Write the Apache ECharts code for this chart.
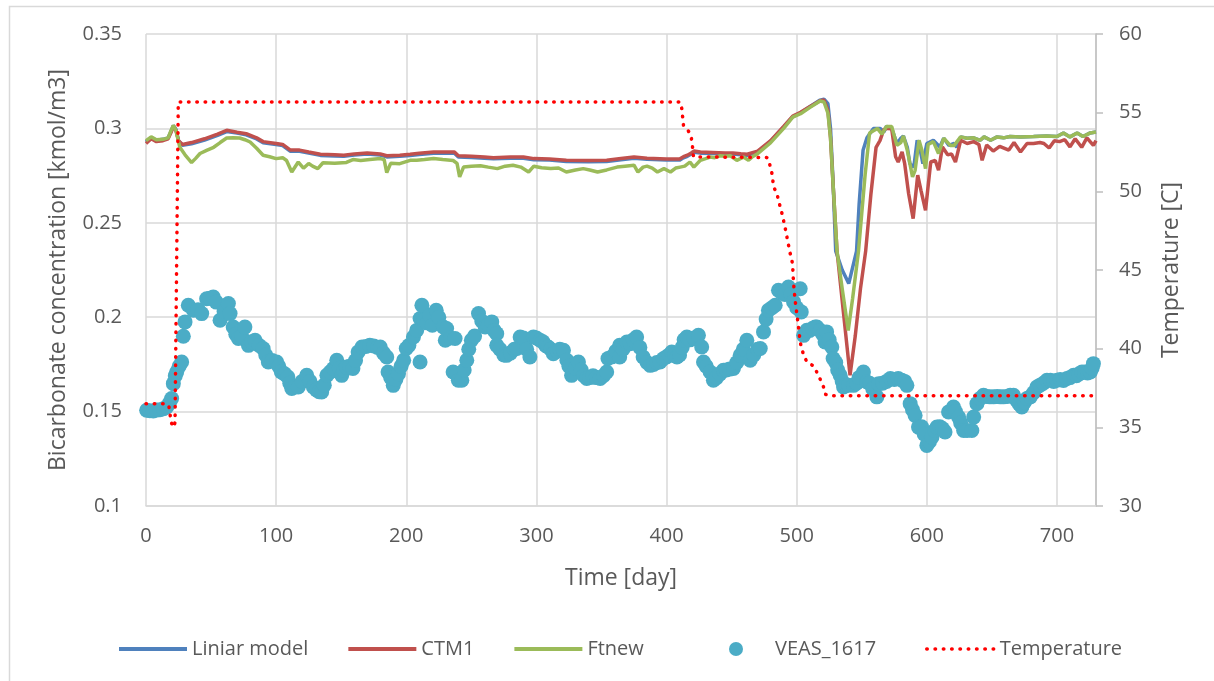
<!DOCTYPE html>
<html>
<head>
<meta charset="utf-8">
<script src="https://cdn.jsdelivr.net/npm/echarts@6/dist/echarts.min.js"></script>
<style>
html,body{margin:0;padding:0;background:#fff;}
#chart{width:1214px;height:681px;}
</style>
</head>
<body>
<div id="chart"></div>
<script>
// ---- data (day, value) ----
const xTicks = [0, 100, 200, 300, 400, 500, 600, 700];
const leftTicks = [0.1, 0.15, 0.2, 0.25, 0.3, 0.35];
const rightTicks = [30, 35, 40, 45, 50, 55, 60];

const liniarModel = [[0,0.2928],[4,0.2952],[8,0.2937],[13,0.2942],[17,0.2950],[19,0.2980],[21,0.3015],[23,0.2995],[25,0.2935],[28,0.2910],[35,0.2918],[45,0.2938],[55,0.2963],[62,0.2983],[70,0.2975],[77,0.2966],[85,0.2944],[90,0.2924],[100,0.2914],[105,0.2909],[111,0.2879],[118,0.2879],[125,0.2869],[134,0.2857],[145,0.2854],[152,0.2852],[160,0.2859],[170,0.2864],[180,0.2859],[185,0.2849],[195,0.2852],[203,0.2857],[210,0.2862],[221,0.2869],[230,0.2869],[237,0.2869],[240,0.2849],[250,0.2846],[260,0.2842],[267,0.2839],[280,0.2842],[290,0.2842],[298,0.2834],[310,0.2832],[323,0.2825],[340,0.2824],[354,0.2825],[365,0.2834],[375,0.2842],[385,0.2836],[400,0.2832],[410,0.2832],[413,0.2844],[416,0.2852],[419,0.2864],[421,0.2874],[426,0.2869],[435,0.2867],[445,0.2864],[451,0.2864],[457,0.2860],[462,0.2857],[466,0.2866],[470,0.2876],[480,0.2932],[490,0.3008],[497,0.3062],[503,0.3083],[510,0.3115],[518,0.3150],[521,0.3155],[524,0.3131],[526,0.3000],[528,0.2710],[530,0.2350],[535,0.2250],[540,0.2178],[546,0.2350],[548,0.2600],[551,0.2884],[554,0.2950],[559,0.2999],[564,0.3000],[567,0.2981],[569,0.3011],[573,0.3000],[577,0.2920],[580,0.2948],[582,0.2960],[585,0.2900],[587,0.2813],[590,0.2795],[592.6,0.2937],[595,0.2884],[597,0.2813],[600,0.2920],[605,0.2937],[610,0.2902],[613,0.2948],[617,0.2910],[621,0.2920],[623,0.2900],[626,0.2955],[631,0.2948],[636,0.2950],[641,0.2937],[644,0.2955],[649,0.2937],[654,0.2955],[659,0.2950],[664,0.2957],[672,0.2955],[682,0.2957],[692,0.2960],[700,0.2957],[705,0.2976],[710,0.2955],[715.5,0.2976],[720,0.2957],[725.6,0.2976],[730,0.2981]];

const ctm1 = [[0,0.2920],[4,0.2945],[8,0.2930],[13,0.2935],[17,0.2945],[19,0.2975],[21,0.3010],[23,0.2990],[25,0.2935],[28,0.2915],[35,0.2925],[45,0.2945],[55,0.2970],[62,0.2990],[70,0.2980],[77,0.2972],[85,0.2950],[90,0.2930],[100,0.2920],[105,0.2915],[111,0.2885],[118,0.2885],[125,0.2875],[134,0.2863],[145,0.2860],[152,0.2858],[160,0.2865],[170,0.2870],[180,0.2865],[185,0.2855],[195,0.2858],[203,0.2863],[210,0.2868],[221,0.2875],[230,0.2875],[237,0.2875],[240,0.2855],[250,0.2852],[260,0.2848],[267,0.2845],[280,0.2848],[290,0.2848],[298,0.2840],[310,0.2838],[323,0.2831],[340,0.2830],[354,0.2831],[365,0.2840],[375,0.2848],[385,0.2842],[400,0.2838],[410,0.2838],[413,0.2850],[416,0.2858],[419,0.2870],[421,0.2880],[426,0.2875],[435,0.2873],[445,0.2870],[451,0.2870],[457,0.2866],[462,0.2863],[466,0.2872],[470,0.2880],[480,0.2935],[490,0.3010],[497,0.3065],[503,0.3085],[510,0.3115],[518,0.3147],[521,0.3150],[524,0.3096],[526,0.2950],[528,0.2700],[531,0.2350],[536,0.2020],[541,0.1692],[545,0.1900],[549,0.2150],[553,0.2350],[557,0.2650],[561,0.2900],[564,0.2935],[567,0.2995],[570,0.3000],[573,0.2998],[576,0.2850],[578,0.2822],[581,0.2875],[583,0.2813],[586,0.2655],[589.5,0.2522],[593,0.2752],[595.5,0.2672],[599,0.2566],[603,0.2822],[606.5,0.2830],[609,0.2778],[612,0.2902],[616,0.2860],[619,0.2865],[622,0.2822],[626,0.2937],[631,0.2920],[636,0.2930],[640,0.2915],[642.5,0.2831],[646,0.2912],[651,0.2880],[656,0.2905],[663,0.2885],[667,0.2925],[672,0.2875],[677,0.2920],[682,0.2920],[687,0.2925],[690,0.2920],[694,0.2896],[698,0.2935],[702,0.2930],[706,0.2940],[710,0.2902],[714,0.2945],[719,0.2900],[723,0.2950],[728,0.2910],[730,0.2935]];

const ftnew = [[0,0.2935],[4,0.2955],[8,0.2940],[13,0.2942],[17,0.2950],[19,0.2985],[21,0.3016],[23,0.2990],[26,0.2900],[30,0.2860],[35,0.2819],[38,0.2840],[41.5,0.2867],[47,0.2885],[52,0.2900],[57,0.2925],[62,0.2949],[67,0.2950],[72,0.2949],[76,0.2940],[80,0.2928],[85,0.2895],[90,0.2858],[95,0.2850],[100,0.2840],[105,0.2845],[108,0.2830],[112,0.2769],[117,0.2822],[121,0.2789],[125,0.2814],[128,0.2800],[132,0.2787],[136,0.2818],[145,0.2815],[154,0.2820],[159,0.2835],[165,0.2830],[172,0.2835],[180,0.2840],[183,0.2835],[185,0.2766],[188,0.2815],[195,0.2813],[203,0.2831],[208,0.2831],[214,0.2835],[221,0.2840],[228,0.2835],[236,0.2830],[239,0.2815],[241,0.2743],[244,0.2795],[250,0.2800],[257,0.2802],[263,0.2795],[270,0.2787],[276,0.2800],[282,0.2805],[288,0.2795],[294,0.2769],[298,0.2800],[304,0.2792],[311,0.2787],[317,0.2790],[323,0.2769],[330,0.2780],[336,0.2787],[341,0.2780],[347,0.2769],[354,0.2780],[362,0.2795],[368,0.2800],[375,0.2805],[378,0.2769],[382,0.2795],[385,0.2800],[389,0.2790],[393,0.2769],[398,0.2787],[403,0.2769],[407,0.2790],[410.5,0.2795],[414,0.2800],[418,0.2822],[421,0.2795],[426,0.2831],[430,0.2840],[433.5,0.2848],[437,0.2845],[441,0.2855],[445,0.2852],[449,0.2855],[454,0.2831],[459,0.2848],[463,0.2831],[466,0.2850],[470,0.2866],[480,0.2925],[490,0.3000],[497,0.3060],[503,0.3078],[510,0.3110],[518,0.3145],[521,0.3140],[524,0.3080],[526,0.2950],[528,0.2700],[531,0.2350],[535,0.2150],[539.6,0.1930],[543,0.2100],[547.5,0.2350],[550,0.2550],[552.6,0.2755],[556,0.2975],[562,0.3000],[565.5,0.2970],[569,0.3010],[573,0.3010],[577,0.2910],[580,0.2925],[582,0.2960],[585,0.2884],[589,0.2743],[591,0.2778],[594,0.2937],[596,0.2890],[599,0.2787],[601,0.2915],[605,0.2930],[609,0.2867],[613,0.2948],[618,0.2910],[621,0.2910],[626,0.2955],[631,0.2948],[636,0.2950],[641,0.2937],[644,0.2955],[649,0.2937],[654,0.2955],[659,0.2950],[664,0.2957],[672,0.2955],[682,0.2957],[692,0.2960],[700,0.2957],[705,0.2976],[710,0.2955],[715.5,0.2976],[720,0.2957],[725.6,0.2976],[730,0.2981]];

const veas1617 = [[0.5,0.1507],[3,0.1505],[5.6,0.1503],[8,0.1508],[10.8,0.151],[13.5,0.1515],[15.9,0.1524],[18,0.1545],[19.7,0.1569],[21,0.1648],[22.5,0.169],[23.6,0.171],[25.5,0.1740],[27.4,0.1763],[28.7,0.1899],[30,0.1975],[32.5,0.2063],[36.4,0.2037],[40,0.2040],[42.8,0.2019],[46.6,0.2098],[49,0.2100],[51.7,0.2107],[54,0.2080],[56.9,0.1984],[60,0.2030],[63.3,0.2072],[64.6,0.2019],[67,0.1948],[69,0.1910],[71,0.1887],[73.5,0.1900],[76,0.1948],[78.7,0.1851],[81,0.1870],[83.8,0.1878],[87,0.1850],[90,0.1834],[92,0.1800],[94,0.1763],[97,0.1770],[100.4,0.1763],[102,0.1740],[104,0.171],[106.5,0.1700],[109,0.1683],[110.5,0.1650],[112,0.1622],[114.5,0.1630],[117,0.163],[120,0.1660],[123.5,0.1692],[126,0.1660],[128.6,0.163],[131,0.1615],[133,0.1605],[135,0.1604],[137,0.1640],[139,0.1692],[141.5,0.1710],[144,0.1728],[146.6,0.1772],[148.5,0.1730],[150.4,0.1692],[152,0.1720],[154,0.1736],[156.5,0.1740],[159,0.1728],[161,0.1770],[163,0.1816],[166,0.1842],[169,0.1845],[172,0.1851],[175,0.1848],[178,0.1840],[180,0.1842],[182.5,0.1810],[185,0.1789],[186,0.1710],[188,0.1680],[190,0.1639],[192,0.1670],[194,0.1701],[196,0.1740],[198,0.1772],[200,0.1834],[202,0.1850],[205.5,0.1895],[208,0.1930],[210.6,0.1763],[210.6,0.1993],[212,0.2063],[213.5,0.1984],[216,0.1970],[218,0.201],[220,0.1957],[223,0.2037],[225,0.2000],[228.5,0.1948],[230,0.1878],[231,0.1940],[234,0.1890],[236,0.171],[237.5,0.1887],[239,0.1700],[240,0.1666],[242.7,0.1666],[244.5,0.1720],[246.5,0.1772],[248,0.1830],[250,0.1878],[252.5,0.1900],[255.5,0.2019],[258,0.1980],[260.6,0.1948],[263,0.1960],[265.7,0.1975],[267.5,0.1930],[269.5,0.1913],[269.5,0.1851],[272,0.1830],[275,0.1800],[277,0.1798],[280,0.1810],[283,0.1830],[285,0.1834],[287.5,0.1895],[290,0.1890],[292.5,0.1830],[295,0.1789],[297.7,0.1895],[300,0.1890],[302.8,0.1878],[305,0.1870],[307,0.1850],[309,0.1842],[311,0.1830],[313,0.1807],[316,0.1820],[318,0.1830],[320.8,0.1825],[323.4,0.1772],[325,0.1740],[327,0.1692],[330,0.1730],[332.3,0.1763],[334.5,0.1720],[336.5,0.1690],[338.7,0.1675],[341,0.1680],[343.5,0.1690],[346,0.1680],[349,0.1675],[351.5,0.1690],[354,0.171],[355,0.1781],[358,0.1790],[361,0.1820],[364,0.1851],[364,0.1789],[366.5,0.1830],[369.5,0.1869],[372,0.1860],[374.5,0.1880],[377,0.1895],[379.5,0.1840],[382,0.1789],[385,0.1760],[387.5,0.1745],[390,0.1750],[392.5,0.1760],[395,0.1763],[397.5,0.1780],[400,0.1790],[402,0.1800],[404,0.1816],[406,0.1800],[408,0.1789],[410,0.1800],[412,0.1840],[413.5,0.1880],[415.6,0.1895],[418,0.1880],[421,0.1890],[424.5,0.1904],[427,0.1842],[428.4,0.1763],[430.5,0.1740],[433.5,0.171],[436,0.1666],[438.5,0.1680],[441,0.1700],[443.7,0.1719],[446,0.1720],[448.5,0.1725],[451.4,0.1728],[454,0.1760],[456.6,0.1798],[459,0.1830],[461.7,0.1878],[464.3,0.1772],[467,0.1800],[470,0.1830],[472,0.1834],[474.5,0.1922],[476.5,0.1990],[478.3,0.2037],[481,0.2050],[483.5,0.2063],[486,0.2143],[488.5,0.2130],[491,0.2120],[493.7,0.216],[495.5,0.2120],[497.6,0.2081],[500,0.2050],[502.7,0.2151],[503.5,0.2028],[505.3,0.1904],[507.8,0.1931],[510,0.1930],[512,0.1940],[514.2,0.1948],[515.5,0.1948],[518,0.1930],[520,0.1910],[521.8,0.1869],[523,0.1922],[525,0.1880],[527,0.1842],[528,0.1781],[530,0.1760],[531.5,0.1720],[533.4,0.1692],[535,0.1660],[536,0.163],[538,0.1640],[540,0.1640],[543.6,0.1639],[546,0.1650],[548,0.1680],[551.3,0.171],[554,0.1657],[556,0.1650],[558.5,0.1620],[561.6,0.1578],[563,0.1648],[566,0.1650],[569,0.1660],[572,0.1675],[575,0.1670],[578,0.1675],[580.8,0.1666],[583,0.1660],[584.7,0.1639],[587.2,0.1542],[589,0.1510],[591,0.148],[593.6,0.1418],[596,0.1420],[598,0.1380],[600,0.1321],[602,0.1340],[604,0.1365],[606,0.1400],[607.8,0.1418],[610,0.1420],[612,0.1410],[614,0.1392],[616.7,0.1498],[620.5,0.1524],[622,0.1500],[624.4,0.1471],[626,0.1440],[628.3,0.14],[631,0.1400],[634.6,0.14],[636,0.1471],[638.5,0.1542],[641,0.1570],[643.6,0.1586],[646,0.1580],[648.5,0.1578],[651.3,0.1578],[654,0.1580],[656.5,0.1578],[659,0.1578],[662,0.1580],[664,0.1586],[666.6,0.1586],[669,0.1560],[671,0.1540],[673,0.1524],[675,0.1550],[677,0.1570],[679.5,0.1578],[682,0.1600],[684.6,0.163],[687,0.1640],[689.5,0.1650],[692.3,0.1666],[695,0.1666],[697.5,0.1660],[700,0.1666],[702.5,0.1670],[705,0.1665],[707.7,0.1675],[710,0.1680],[712.8,0.1692],[715,0.1690],[717,0.1700],[719.2,0.171],[721.5,0.1710],[723.5,0.1705],[725.6,0.171],[727,0.1730],[728,0.1754]];

const temperature = [[0,36.5],[15.5,36.5],[17.5,36.4],[18.4,35.9],[19.2,35.35],[21,35.0],[22.3,35.3],[24.8,55.68],[410.5,55.68],[411.7,55.26],[413,54.2],[415.6,53.99],[418.7,53.57],[419.7,53.04],[420.7,52.19],[421.5,52.15],[477,52.15],[478.4,52.0],[481,51.13],[482.3,50.28],[484.8,49.86],[486,49.43],[488.7,48.59],[491,47.74],[493,46.89],[495,46.05],[496.8,45.41],[497.6,44.14],[498.8,43.08],[501.4,41.38],[502.7,40.4],[505,39.69],[507.8,39.15],[513,38.9],[516.8,38.3],[518,38.2],[520.6,37.57],[522,37.1],[525.7,37.0],[730,37.0]];

// ---- chart ----
const FONT = '"Open Sans", "Noto Sans", sans-serif';
const TXT = '#595959';
const GRID = '#D9D9D9';
const C_BLUE = '#4F81BD', C_RED = '#C0504D', C_GREEN = '#9BBB59', C_TEAL = '#4BACC6', C_TEMP = '#FF0000';
const TEMP_DASH = [0.5, 7.8];
const legendBase = {
  top: 634, itemWidth: 68, itemHeight: 14, itemGap: 38,
  textStyle: {fontFamily: FONT, fontSize: 20, color: TXT}
};

const chart = echarts.init(document.getElementById('chart'), null, {renderer: 'canvas'});
chart.setOption({
  animation: false,
  backgroundColor: '#ffffff',
  textStyle: {fontFamily: FONT, color: TXT},
  graphic: [{
    type: 'rect', left: 7, top: 4, silent: true, z: -10,
    shape: {width: 1230, height: 700},
    style: {fill: 'none', stroke: '#D9D9D9', lineWidth: 1.5}
  }],
  grid: {left: 146, right: 118, top: 34, bottom: 175, containLabel: false},
  legend: [
    Object.assign({}, legendBase, {
      left: 112,
      data: [
        {name: 'Liniar model', itemStyle: {opacity: 0}, lineStyle: {color: C_BLUE, width: 4}},
        {name: 'CTM1', itemStyle: {opacity: 0}, lineStyle: {color: C_RED, width: 4}},
        {name: 'Ftnew', itemStyle: {opacity: 0}, lineStyle: {color: C_GREEN, width: 4}}
      ]
    }),
    Object.assign({}, legendBase, {
      left: 724,
      data: [{name: 'VEAS_1617'}]
    }),
    Object.assign({}, legendBase, {
      left: 920,
      data: [{name: 'Temperature', itemStyle: {opacity: 0}, lineStyle: {color: C_TEMP, width: 3.5, type: TEMP_DASH, cap: 'round'}}]
    })
  ],
  xAxis: {
    type: 'value', min: 0, max: 730, interval: 100,
    name: 'Time [day]', nameLocation: 'middle', nameGap: 61,
    nameTextStyle: {fontFamily: FONT, fontSize: 23, color: TXT},
    axisLine: {show: true, onZero: false, lineStyle: {color: GRID, width: 1.5}},
    axisTick: {show: false},
    axisLabel: {fontFamily: FONT, fontSize: 20, color: TXT, margin: 20, showMaxLabel: false,
      formatter: v => (xTicks.indexOf(v) >= 0 ? String(v) : '')},
    splitLine: {show: true, lineStyle: {color: GRID, width: 1.5}}
  },
  yAxis: [{
    type: 'value', min: 0.1, max: 0.35, interval: 0.05, position: 'left',
    name: 'Bicarbonate concentration [kmol/m3]', nameLocation: 'middle', nameGap: 76, nameRotate: 90,
    nameTextStyle: {fontFamily: FONT, fontSize: 23, color: TXT},
    axisLine: {show: false}, axisTick: {show: false},
    axisLabel: {fontFamily: FONT, fontSize: 20, color: TXT, margin: 24,
      formatter: v => String(Math.round(v * 100) / 100)},
    splitLine: {show: true, lineStyle: {color: GRID, width: 1.5}}
  }, {
    type: 'value', min: 30, max: 60, interval: 5, position: 'right',
    name: 'Temperature [C]', nameLocation: 'middle', nameGap: 64, nameRotate: 90,
    nameTextStyle: {fontFamily: FONT, fontSize: 23, color: TXT},
    axisLine: {show: true, lineStyle: {color: '#BFBFBF', width: 1.5}},
    axisTick: {show: true, inside: false, length: 7, lineStyle: {color: '#BFBFBF', width: 1.5}},
    axisLabel: {fontFamily: FONT, fontSize: 20, color: TXT, margin: 23},
    splitLine: {show: false}
  }],
  series: [{
    name: 'Liniar model', type: 'line', data: liniarModel, symbol: 'none', z: 3,
    lineStyle: {color: C_BLUE, width: 3.5}, itemStyle: {color: C_BLUE}
  }, {
    name: 'CTM1', type: 'line', data: ctm1, symbol: 'none', z: 3,
    lineStyle: {color: C_RED, width: 3.5}, itemStyle: {color: C_RED}
  }, {
    name: 'Ftnew', type: 'line', data: ftnew, symbol: 'none', z: 3,
    lineStyle: {color: C_GREEN, width: 3.5}, itemStyle: {color: C_GREEN}
  }, {
    name: 'VEAS_1617', type: 'scatter', data: veas1617, symbol: 'circle', symbolSize: 15, z: 2,
    itemStyle: {color: C_TEAL, opacity: 1}
  }, {
    name: 'Temperature', type: 'line', yAxisIndex: 1, data: temperature, symbol: 'none', z: 4,
    lineStyle: {color: C_TEMP, width: 3.5, type: TEMP_DASH, cap: 'round'},
    itemStyle: {color: C_TEMP}
  }]
});
</script>
</body>
</html>
